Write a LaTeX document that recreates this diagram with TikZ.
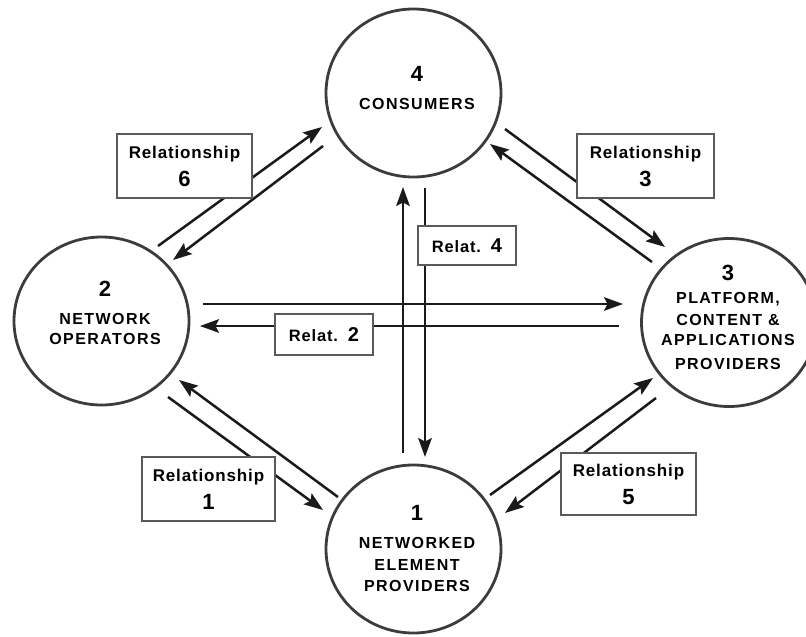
\documentclass[tikz,border=0pt]{standalone}
\usepackage{fontspec}
\setmainfont{Liberation Sans}
\newfontfamily\capsfont{Liberation Sans}[LetterSpace=9]
\newfontfamily\relfont{Liberation Sans}[LetterSpace=5]
\usetikzlibrary{arrows.meta,shapes.geometric}
\definecolor{ink}{HTML}{1A1A1A}
\definecolor{boxline}{HTML}{5A5A5A}
\begin{document}
\begin{tikzpicture}[x=1pt,y=-1pt,
  actor/.style={draw=ink!85, line width=2.8pt, ellipse, minimum width=175pt, minimum height=168pt, inner sep=0pt},
  conn/.style={draw=ink, line width=2.5pt, -{Stealth[length=14pt,width=10pt,inset=2.5pt,scale=1.35]}},
  relbox/.style={draw=boxline, fill=white, line width=1.4pt, inner sep=0pt, align=center,
    font=\relfont\bfseries\fontsize{17}{28}\selectfont},
  shortbox/.style={draw=boxline, fill=white, line width=1.4pt, inner sep=0pt,
    font=\relfont\bfseries\fontsize{16.5}{18}\selectfont},
  captxt/.style={font=\capsfont\bfseries\fontsize{16}{18}\selectfont, inner sep=0pt, anchor=base},
  numtxt/.style={font=\bfseries\fontsize{22}{22}\selectfont, inner sep=0pt, anchor=base}]
\useasboundingbox (0,0) rectangle (806,637);
\clip (0,0) rectangle (806,637);
\fill[white] (0,0) rectangle (806,637);

% actors
\node[actor] (c4) at (413.5,93) {};
\node[actor] (c2) at (101.5,321) {};
\node[actor] (c3) at (729,322.5) {};
\node[actor] (c1) at (413.5,549) {};

% texts in circles
\node[numtxt] (t4n) at (417,81) {4};
\node[captxt] (t4a) at (417,109) {CONSUMERS};
\node[numtxt] (t2n) at (105,296) {2};
\node[captxt] (t2a) at (105,324) {NETWORK};
\node[captxt] (t2b) at (105,344) {OPERATORS};
\node[numtxt] (t3n) at (728,280) {3};
\node[captxt] (t3a) at (728,303) {PLATFORM,};
\node[captxt] (t3b) at (728,325) {CONTENT \&};
\node[captxt] (t3c) at (728,345) {APPLICATIONS};
\node[captxt] (t3d) at (728,369) {PROVIDERS};
\node[numtxt] (t1n) at (417,520) {1};
\node[captxt] (t1a) at (417,548) {NETWORKED};
\node[captxt] (t1b) at (417,570) {ELEMENT};
\node[captxt] (t1c) at (417,591) {PROVIDERS};

% connector end points
\coordinate (r6as) at (158,246);  \coordinate (r6at) at (322,127);
\coordinate (r6bs) at (323,146);  \coordinate (r6bt) at (173,260);
\coordinate (r3as) at (505,129);  \coordinate (r3at) at (665,247);
\coordinate (r3bs) at (652,262);  \coordinate (r3bt) at (490,144);
\coordinate (r4as) at (403,453);  \coordinate (r4at) at (403,187);
\coordinate (r4bs) at (425,188);  \coordinate (r4bt) at (425,457);
\coordinate (r2as) at (203,304);  \coordinate (r2at) at (623,304);
\coordinate (r2bs) at (619,326);  \coordinate (r2bt) at (200,326);
\coordinate (r1as) at (168,397);  \coordinate (r1at) at (323,510);
\coordinate (r1bs) at (338,497);  \coordinate (r1bt) at (179,380);
\coordinate (r5as) at (490,495);  \coordinate (r5at) at (653,378);
\coordinate (r5bs) at (656,398);  \coordinate (r5bt) at (505,513);

% connectors
\draw[conn] (r6as) -- (r6at);
\draw[conn] (r6bs) -- (r6bt);
\draw[conn] (r3as) -- (r3at);
\draw[conn] (r3bs) -- (r3bt);
\draw[conn] (r4as) -- (r4at);
\draw[conn] (r4bs) -- (r4bt);
\draw[conn] (r2as) -- (r2at);
\draw[conn] (r2bs) -- (r2bt);
\draw[conn] (r1as) -- (r1at);
\draw[conn] (r1bs) -- (r1bt);
\draw[conn] (r5as) -- (r5at);
\draw[conn] (r5bs) -- (r5bt);

% relationship boxes
\node[relbox, minimum width=135pt, minimum height=64pt] (b6) at (184.5,166) {Relationship\\{\fontsize{22}{28}\selectfont 6}};
\node[relbox, minimum width=137pt, minimum height=64pt] (b3) at (645.5,166) {Relationship\\{\fontsize{22}{28}\selectfont 3}};
\node[relbox, minimum width=133pt, minimum height=64pt] (b1) at (208.5,489) {Relationship\\{\fontsize{22}{28}\selectfont 1}};
\node[relbox, minimum width=135pt, minimum height=62pt] (b5) at (628.5,484) {Relationship\\{\fontsize{22}{28}\selectfont 5}};
\node[shortbox, minimum width=98pt, minimum height=39pt] (b4) at (467,245.5) {Relat.\hspace{10pt}{\fontsize{20}{20}\selectfont 4}};
\node[shortbox, minimum width=98pt, minimum height=41pt] (b2) at (324,334.5) {Relat.\hspace{10pt}{\fontsize{20}{20}\selectfont 2}};
\end{tikzpicture}
\end{document}
